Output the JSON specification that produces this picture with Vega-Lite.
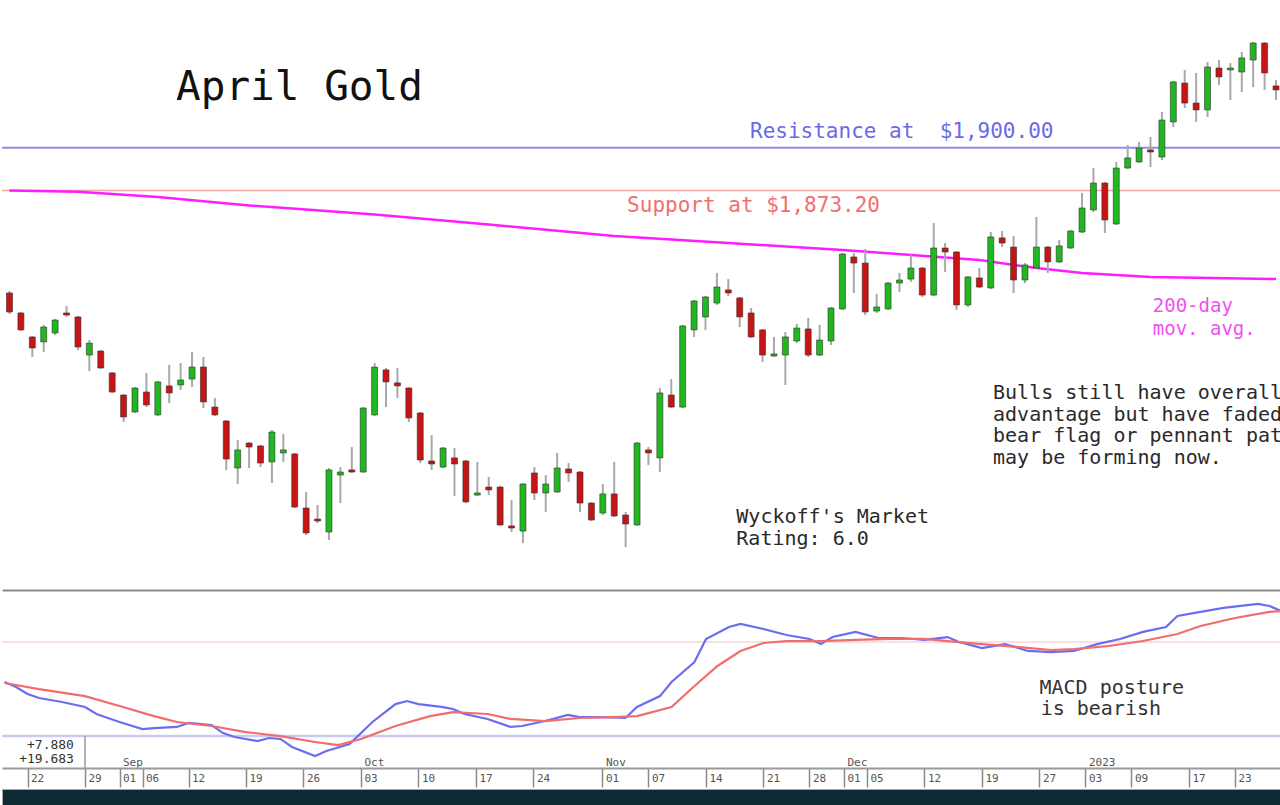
{
  "$schema": "https://vega.github.io/schema/vega-lite/v6.json",
  "padding": 0,
  "background": "#ffffff",
  "spacing": 0,
  "config": {
    "view": {"stroke": null},
    "font": "DejaVu Sans Mono",
    "text": {"font": "DejaVu Sans Mono"}
  },
  "datasets": {
    "candles": [
      {"i":0,"o":1809.2,"h":1810.4,"l":1796.1,"c":1797.3},
      {"i":1,"o":1796.7,"h":1797.3,"l":1785.4,"c":1786.1},
      {"i":2,"o":1781.7,"h":1782.3,"l":1769.2,"c":1774.8},
      {"i":3,"o":1778.6,"h":1789.2,"l":1772.3,"c":1787.9},
      {"i":4,"o":1784.2,"h":1792.9,"l":1782.9,"c":1792.3},
      {"i":5,"o":1796.7,"h":1801.0,"l":1794.2,"c":1795.4},
      {"i":6,"o":1794.2,"h":1794.8,"l":1773.5,"c":1775.4},
      {"i":7,"o":1770.4,"h":1779.8,"l":1760.4,"c":1777.9},
      {"i":8,"o":1772.9,"h":1773.5,"l":1761.7,"c":1762.3},
      {"i":9,"o":1759.2,"h":1759.8,"l":1746.7,"c":1747.3},
      {"i":10,"o":1745.4,"h":1746.1,"l":1728.6,"c":1731.7},
      {"i":11,"o":1734.8,"h":1750.4,"l":1734.2,"c":1749.8},
      {"i":12,"o":1747.3,"h":1759.2,"l":1737.9,"c":1739.2},
      {"i":13,"o":1733.0,"h":1754.2,"l":1732.3,"c":1753.6},
      {"i":14,"o":1751.1,"h":1764.2,"l":1740.4,"c":1746.7},
      {"i":15,"o":1751.7,"h":1765.4,"l":1748.6,"c":1754.8},
      {"i":16,"o":1755.4,"h":1772.3,"l":1750.4,"c":1762.9},
      {"i":17,"o":1762.9,"h":1769.2,"l":1737.3,"c":1741.1},
      {"i":18,"o":1737.9,"h":1743.6,"l":1732.3,"c":1733.0},
      {"i":19,"o":1729.2,"h":1729.8,"l":1698.6,"c":1705.4},
      {"i":20,"o":1699.8,"h":1717.3,"l":1689.8,"c":1711.1},
      {"i":21,"o":1715.4,"h":1716.1,"l":1699.8,"c":1712.9},
      {"i":22,"o":1713.6,"h":1714.2,"l":1700.4,"c":1702.9},
      {"i":23,"o":1703.6,"h":1723.6,"l":1690.4,"c":1722.3},
      {"i":24,"o":1709.2,"h":1721.1,"l":1703.6,"c":1711.1},
      {"i":25,"o":1708.6,"h":1709.2,"l":1674.8,"c":1675.4},
      {"i":26,"o":1674.8,"h":1684.8,"l":1657.9,"c":1659.2},
      {"i":27,"o":1667.9,"h":1676.7,"l":1665.4,"c":1666.7},
      {"i":28,"o":1659.8,"h":1699.8,"l":1654.8,"c":1698.6},
      {"i":29,"o":1695.4,"h":1700.4,"l":1677.9,"c":1697.3},
      {"i":30,"o":1698.6,"h":1712.9,"l":1696.7,"c":1697.3},
      {"i":31,"o":1697.3,"h":1737.9,"l":1696.7,"c":1737.3},
      {"i":32,"o":1733.0,"h":1765.4,"l":1732.3,"c":1762.9},
      {"i":33,"o":1761.1,"h":1762.3,"l":1737.9,"c":1753.6},
      {"i":34,"o":1753.0,"h":1762.3,"l":1743.6,"c":1751.1},
      {"i":35,"o":1749.8,"h":1750.4,"l":1728.6,"c":1731.1},
      {"i":36,"o":1734.2,"h":1734.8,"l":1702.9,"c":1704.8},
      {"i":37,"o":1704.2,"h":1720.4,"l":1698.6,"c":1702.3},
      {"i":38,"o":1700.4,"h":1712.9,"l":1699.8,"c":1712.3},
      {"i":39,"o":1706.1,"h":1712.3,"l":1682.3,"c":1702.3},
      {"i":40,"o":1704.2,"h":1704.8,"l":1677.9,"c":1678.6},
      {"i":41,"o":1682.9,"h":1703.6,"l":1682.3,"c":1684.2},
      {"i":42,"o":1687.9,"h":1694.2,"l":1682.9,"c":1686.1},
      {"i":43,"o":1687.9,"h":1688.6,"l":1663.6,"c":1664.2},
      {"i":44,"o":1663.6,"h":1679.8,"l":1659.8,"c":1662.3},
      {"i":45,"o":1660.4,"h":1690.4,"l":1652.9,"c":1689.8},
      {"i":46,"o":1696.7,"h":1700.4,"l":1679.8,"c":1684.2},
      {"i":47,"o":1684.2,"h":1695.4,"l":1672.3,"c":1689.8},
      {"i":48,"o":1684.8,"h":1709.2,"l":1684.2,"c":1699.8},
      {"i":49,"o":1699.2,"h":1702.9,"l":1691.1,"c":1696.7},
      {"i":50,"o":1697.3,"h":1697.9,"l":1672.3,"c":1677.9},
      {"i":51,"o":1677.9,"h":1678.6,"l":1666.7,"c":1667.3},
      {"i":52,"o":1671.7,"h":1689.8,"l":1670.4,"c":1683.6},
      {"i":53,"o":1683.6,"h":1703.6,"l":1669.2,"c":1669.8},
      {"i":54,"o":1670.4,"h":1672.3,"l":1650.4,"c":1664.8},
      {"i":55,"o":1664.2,"h":1716.1,"l":1663.6,"c":1715.4},
      {"i":56,"o":1711.1,"h":1712.9,"l":1701.7,"c":1709.2},
      {"i":57,"o":1706.1,"h":1749.8,"l":1697.3,"c":1746.7},
      {"i":58,"o":1745.4,"h":1755.4,"l":1737.3,"c":1737.9},
      {"i":59,"o":1737.9,"h":1789.2,"l":1737.3,"c":1788.6},
      {"i":60,"o":1786.1,"h":1804.8,"l":1781.7,"c":1804.2},
      {"i":61,"o":1794.2,"h":1807.3,"l":1786.1,"c":1806.7},
      {"i":62,"o":1802.9,"h":1821.7,"l":1801.7,"c":1812.9},
      {"i":63,"o":1811.1,"h":1817.9,"l":1807.3,"c":1809.2},
      {"i":64,"o":1806.1,"h":1806.7,"l":1787.9,"c":1794.2},
      {"i":65,"o":1796.7,"h":1799.8,"l":1781.1,"c":1781.7},
      {"i":66,"o":1786.1,"h":1786.7,"l":1766.1,"c":1770.4},
      {"i":67,"o":1769.8,"h":1781.7,"l":1769.2,"c":1771.1},
      {"i":68,"o":1770.4,"h":1784.8,"l":1751.7,"c":1781.7},
      {"i":69,"o":1779.2,"h":1789.8,"l":1777.9,"c":1787.3},
      {"i":70,"o":1786.7,"h":1793.6,"l":1769.2,"c":1770.4},
      {"i":71,"o":1770.4,"h":1789.2,"l":1769.8,"c":1779.8},
      {"i":72,"o":1779.2,"h":1800.4,"l":1776.7,"c":1799.8},
      {"i":73,"o":1799.2,"h":1834.2,"l":1798.6,"c":1833.5},
      {"i":74,"o":1831.7,"h":1834.2,"l":1809.2,"c":1827.9},
      {"i":75,"o":1827.9,"h":1836.7,"l":1795.4,"c":1797.3},
      {"i":76,"o":1797.9,"h":1808.6,"l":1796.7,"c":1800.4},
      {"i":77,"o":1799.2,"h":1816.1,"l":1798.6,"c":1815.4},
      {"i":78,"o":1815.4,"h":1821.7,"l":1809.8,"c":1817.3},
      {"i":79,"o":1817.9,"h":1832.9,"l":1816.1,"c":1824.8},
      {"i":80,"o":1824.8,"h":1825.4,"l":1806.7,"c":1807.9},
      {"i":81,"o":1807.9,"h":1852.9,"l":1807.3,"c":1837.3},
      {"i":82,"o":1837.3,"h":1840.4,"l":1822.3,"c":1834.8},
      {"i":83,"o":1834.8,"h":1835.4,"l":1798.6,"c":1801.7},
      {"i":84,"o":1801.7,"h":1819.8,"l":1800.4,"c":1819.2},
      {"i":85,"o":1818.6,"h":1824.8,"l":1812.3,"c":1812.9},
      {"i":86,"o":1812.3,"h":1847.3,"l":1811.7,"c":1844.2},
      {"i":87,"o":1843.6,"h":1847.9,"l":1837.9,"c":1840.4},
      {"i":88,"o":1837.9,"h":1844.8,"l":1809.2,"c":1817.3},
      {"i":89,"o":1817.3,"h":1827.9,"l":1815.4,"c":1826.7},
      {"i":90,"o":1824.8,"h":1856.7,"l":1824.2,"c":1837.9},
      {"i":91,"o":1837.9,"h":1838.6,"l":1821.7,"c":1828.6},
      {"i":92,"o":1828.6,"h":1842.3,"l":1827.9,"c":1838.6},
      {"i":93,"o":1837.3,"h":1848.6,"l":1836.7,"c":1847.9},
      {"i":94,"o":1847.3,"h":1871.7,"l":1846.7,"c":1862.3},
      {"i":95,"o":1861.1,"h":1887.3,"l":1859.8,"c":1877.9},
      {"i":96,"o":1877.9,"h":1878.6,"l":1846.7,"c":1854.8},
      {"i":97,"o":1852.3,"h":1891.1,"l":1851.7,"c":1887.3},
      {"i":98,"o":1887.3,"h":1901.7,"l":1886.7,"c":1893.6},
      {"i":99,"o":1891.1,"h":1903.6,"l":1890.4,"c":1899.8},
      {"i":100,"o":1898.6,"h":1906.7,"l":1887.9,"c":1897.3},
      {"i":101,"o":1894.2,"h":1922.3,"l":1892.3,"c":1917.3},
      {"i":102,"o":1916.1,"h":1941.7,"l":1912.9,"c":1941.1},
      {"i":103,"o":1940.4,"h":1948.6,"l":1924.8,"c":1927.9},
      {"i":104,"o":1927.9,"h":1946.7,"l":1916.1,"c":1923.6},
      {"i":105,"o":1923.6,"h":1953.6,"l":1919.2,"c":1950.4},
      {"i":106,"o":1949.8,"h":1954.8,"l":1939.2,"c":1944.2},
      {"i":107,"o":1948.6,"h":1952.9,"l":1929.8,"c":1949.8},
      {"i":108,"o":1947.3,"h":1959.8,"l":1934.8,"c":1956.1},
      {"i":109,"o":1954.8,"h":1966.1,"l":1937.9,"c":1965.4},
      {"i":110,"o":1965.4,"h":1966.1,"l":1936.1,"c":1946.7},
      {"i":111,"o":1938.6,"h":1942.3,"l":1929.8,"c":1936.1}
    ],
    "ma": [
      {"i":0,"p":1873.2},{"i":6,"p":1872.4},{"i":13,"p":1869.2},{"i":21,"p":1863.9},
      {"i":32,"p":1858.2},{"i":42,"p":1852.0},{"i":53,"p":1844.8},{"i":63,"p":1840.4},
      {"i":73,"p":1836.1},{"i":82,"p":1831.4},{"i":85,"p":1829.8},{"i":90,"p":1824.8},
      {"i":94,"p":1821.7},{"i":100,"p":1819.2},{"i":111,"p":1817.9}
    ],
    "macd": [
      {"i":0,"v":-25.0},{"i":1,"v":-28.1},{"i":2,"v":-32.5},{"i":3,"v":-35.0},{"i":5,"v":-37.5},
      {"i":7,"v":-40.6},{"i":8,"v":-45.0},{"i":10,"v":-50.0},{"i":12,"v":-54.4},{"i":13,"v":-53.8},
      {"i":15,"v":-53.1},{"i":16,"v":-50.6},{"i":18,"v":-51.9},{"i":19,"v":-56.9},{"i":20,"v":-59.4},
      {"i":22,"v":-61.9},{"i":23,"v":-60.0},{"i":24,"v":-60.6},{"i":25,"v":-65.6},{"i":27,"v":-71.3},
      {"i":28,"v":-68.1},{"i":30,"v":-63.8},{"i":32,"v":-50.0},{"i":34,"v":-38.8},{"i":35,"v":-36.9},
      {"i":36,"v":-38.8},{"i":38,"v":-40.6},{"i":39,"v":-41.9},{"i":40,"v":-45.0},{"i":42,"v":-48.1},
      {"i":44,"v":-53.1},{"i":45,"v":-52.5},{"i":47,"v":-49.4},{"i":49,"v":-45.6},{"i":50,"v":-46.9},
      {"i":52,"v":-46.9},{"i":54,"v":-47.5},{"i":55,"v":-40.6},{"i":57,"v":-33.8},{"i":58,"v":-25.0},
      {"i":60,"v":-12.5},{"i":61,"v":1.9},{"i":63,"v":9.4},{"i":64,"v":11.3},{"i":66,"v":8.1},
      {"i":68,"v":4.4},{"i":70,"v":1.9},{"i":71,"v":-1.3},{"i":72,"v":3.1},{"i":74,"v":6.3},
      {"i":76,"v":2.5},{"i":78,"v":2.5},{"i":80,"v":1.3},{"i":82,"v":3.1},{"i":83,"v":0},
      {"i":85,"v":-3.8},{"i":87,"v":-1.3},{"i":89,"v":-5.6},{"i":91,"v":-6.3},{"i":93,"v":-5.6},
      {"i":95,"v":-1.3},{"i":97,"v":1.9},{"i":99,"v":6.3},{"i":101,"v":9.4},{"i":102,"v":16.3},
      {"i":104,"v":18.8},{"i":106,"v":21.3},{"i":109,"v":23.8},{"i":110,"v":22.5},{"i":111,"v":19.4}
    ],
    "signal": [
      {"i":0,"v":-25.6},{"i":3,"v":-29.4},{"i":7,"v":-33.8},{"i":10,"v":-40.0},{"i":13,"v":-46.3},
      {"i":15,"v":-50.0},{"i":18,"v":-52.5},{"i":21,"v":-56.3},{"i":24,"v":-58.8},{"i":27,"v":-62.5},
      {"i":29,"v":-64.4},{"i":31,"v":-60.6},{"i":34,"v":-52.5},{"i":37,"v":-46.3},{"i":39,"v":-43.8},
      {"i":42,"v":-45.0},{"i":44,"v":-48.1},{"i":47,"v":-49.4},{"i":50,"v":-47.5},{"i":53,"v":-46.9},
      {"i":55,"v":-46.3},{"i":58,"v":-40.6},{"i":60,"v":-27.5},{"i":62,"v":-15.0},{"i":64,"v":-5.6},
      {"i":66,"v":-0.6},{"i":68,"v":0.6},{"i":71,"v":0.6},{"i":74,"v":1.3},{"i":77,"v":1.9},
      {"i":80,"v":1.9},{"i":82,"v":0.6},{"i":85,"v":-1.3},{"i":88,"v":-3.1},{"i":91,"v":-5.0},
      {"i":93,"v":-4.4},{"i":96,"v":-2.5},{"i":99,"v":0.6},{"i":102,"v":5.0},{"i":104,"v":10.0},
      {"i":107,"v":15.0},{"i":110,"v":18.8},{"i":111,"v":19.4}
    ]
  },
  "vconcat": [
    {
      "width": 1280,
      "height": 590,
      "layer": [
        {
          "data": {"values": [{"p": 1900}]},
          "mark": {"type": "rule", "color": "#8c8cf0", "strokeWidth": 2},
          "encoding": {"y": {"field": "p", "type": "quantitative", "scale": {"domain": [1623.55, 1992.3], "nice": false, "zero": false}, "axis": null}}
        },
        {
          "data": {"values": [{"p": 1873.2}]},
          "mark": {"type": "rule", "color": "#f4a8a2", "strokeWidth": 1.6},
          "encoding": {"y": {"field": "p", "type": "quantitative", "scale": {"domain": [1623.55, 1992.3], "nice": false, "zero": false}, "axis": null}}
        },
        {
          "data": {"name": "ma"},
          "mark": {"type": "line", "color": "#ff1cff", "strokeWidth": 2.5, "clip": true},
          "encoding": {
            "x": {"field": "i", "type": "quantitative", "scale": {"domain": [-0.2174, 111.087], "nice": false, "zero": false},
                  "axis": {"orient": "bottom", "domain": true, "domainColor": "#8a8a8a", "domainWidth": 2, "ticks": false, "labels": false, "grid": false, "title": null}},
            "y": {"field": "p", "type": "quantitative", "scale": {"domain": [1623.55, 1992.3], "nice": false, "zero": false}, "axis": null}
          }
        },
        {
          "data": {"name": "candles"},
          "mark": {"type": "rule", "color": "#a8a8a8", "strokeWidth": 2, "clip": true},
          "encoding": {
            "x": {"field": "i", "type": "quantitative", "scale": {"domain": [-0.2174, 111.087], "nice": false, "zero": false}},
            "y": {"field": "l", "type": "quantitative", "scale": {"domain": [1623.55, 1992.3], "nice": false, "zero": false}, "axis": null},
            "y2": {"field": "h"}
          }
        },
        {
          "data": {"name": "candles"},
          "mark": {"type": "bar", "width": 6, "clip": true, "stroke": "#333333", "strokeWidth": 0.6},
          "encoding": {
            "x": {"field": "i", "type": "quantitative", "scale": {"domain": [-0.2174, 111.087], "nice": false, "zero": false}},
            "y": {"field": "o", "type": "quantitative", "scale": {"domain": [1623.55, 1992.3], "nice": false, "zero": false}, "axis": null},
            "y2": {"field": "c"},
            "color": {"condition": {"test": "datum.c >= datum.o", "value": "#1fb81f"}, "value": "#c81414"}
          }
        },
        {
          "data": {"values": [{"i": 14.6, "p": 1929.8, "t": "April Gold"}]},
          "mark": {"type": "text", "align": "left", "baseline": "alphabetic", "fontSize": 41, "color": "#111111", "font": "DejaVu Sans Mono"},
          "encoding": {
            "x": {"field": "i", "type": "quantitative", "scale": {"domain": [-0.2174, 111.087], "nice": false, "zero": false}},
            "y": {"field": "p", "type": "quantitative", "scale": {"domain": [1623.55, 1992.3], "nice": false, "zero": false}, "axis": null},
            "text": {"field": "t"}
          }
        },
        {
          "data": {"values": [{"i": 64.9, "p": 1906.05, "t": "Resistance at \u00a0$1,900.00"}]},
          "mark": {"type": "text", "align": "left", "baseline": "alphabetic", "fontSize": 21, "color": "#6a6ae8", "font": "DejaVu Sans Mono"},
          "encoding": {
            "x": {"field": "i", "type": "quantitative", "scale": {"domain": [-0.2174, 111.087], "nice": false, "zero": false}},
            "y": {"field": "p", "type": "quantitative", "scale": {"domain": [1623.55, 1992.3], "nice": false, "zero": false}, "axis": null},
            "text": {"field": "t"}
          }
        },
        {
          "data": {"values": [{"i": 54.13, "p": 1859.8, "t": "Support at $1,873.20"}]},
          "mark": {"type": "text", "align": "left", "baseline": "alphabetic", "fontSize": 21, "color": "#f07070", "font": "DejaVu Sans Mono"},
          "encoding": {
            "x": {"field": "i", "type": "quantitative", "scale": {"domain": [-0.2174, 111.087], "nice": false, "zero": false}},
            "y": {"field": "p", "type": "quantitative", "scale": {"domain": [1623.55, 1992.3], "nice": false, "zero": false}, "axis": null},
            "text": {"field": "t"}
          }
        },
        {
          "data": {"values": [{"i": 100.2, "p": 1797.0, "t": "200-day"}, {"i": 100.2, "p": 1783.2, "t": "mov. avg."}]},
          "mark": {"type": "text", "align": "left", "baseline": "alphabetic", "fontSize": 19, "color": "#f050f0", "font": "DejaVu Sans Mono"},
          "encoding": {
            "x": {"field": "i", "type": "quantitative", "scale": {"domain": [-0.2174, 111.087], "nice": false, "zero": false}},
            "y": {"field": "p", "type": "quantitative", "scale": {"domain": [1623.55, 1992.3], "nice": false, "zero": false}, "axis": null},
            "text": {"field": "t"}
          }
        },
        {
          "data": {"values": [
            {"i": 63.7, "p": 1665.4, "t": "Wyckoff's Market"},
            {"i": 63.7, "p": 1651.7, "t": "Rating: 6.0"},
            {"i": 86.2, "p": 1742.9, "t": "Bulls still have overall"},
            {"i": 86.2, "p": 1729.4, "t": "advantage but have faded;"},
            {"i": 86.2, "p": 1715.9, "t": "bear flag or pennant pattern"},
            {"i": 86.2, "p": 1702.4, "t": "may be forming now."}
          ]},
          "mark": {"type": "text", "align": "left", "baseline": "alphabetic", "fontSize": 20, "color": "#2a2a2a", "font": "DejaVu Sans Mono", "clip": true},
          "encoding": {
            "x": {"field": "i", "type": "quantitative", "scale": {"domain": [-0.2174, 111.087], "nice": false, "zero": false}},
            "y": {"field": "p", "type": "quantitative", "scale": {"domain": [1623.55, 1992.3], "nice": false, "zero": false}, "axis": null},
            "text": {"field": "t"}
          }
        }
      ]
    },
    {
      "width": 1280,
      "height": 178,
      "layer": [
        {
          "data": {"values": [{"v": 0}]},
          "mark": {"type": "rule", "color": "#f5c2c2", "strokeWidth": 1.2},
          "encoding": {"y": {"field": "v", "type": "quantitative", "scale": {"domain": [-78.75, 32.5], "nice": false, "zero": false}, "axis": null}}
        },
        {
          "data": {"values": [{"v": -58.75}]},
          "mark": {"type": "rule", "color": "#cacaf4", "strokeWidth": 2.5},
          "encoding": {"y": {"field": "v", "type": "quantitative", "scale": {"domain": [-78.75, 32.5], "nice": false, "zero": false}, "axis": null}}
        },
        {
          "data": {"name": "macd"},
          "mark": {"type": "line", "color": "#6c6cf2", "strokeWidth": 2.2, "clip": true},
          "encoding": {
            "x": {"field": "i", "type": "quantitative", "scale": {"domain": [-0.2174, 111.087], "nice": false, "zero": false},
                  "axis": {
                    "orient": "bottom",
                    "values": [2,7,10,12,16,21,26,31,36,41,46,52,56,61,66,70,73,75,80,85,90,94,98,103,107],
                    "labelExpr": "[indexof([10,31,52,73,94], datum.value) >= 0 ? ['Sep','Oct','Nov','Dec','2023'][indexof([10,31,52,73,94], datum.value)] : '', ['22','29','01','06','12','19','26','03','10','17','24','01','07','14','21','28','01','05','12','19','27','03','09','17','23'][indexof([2,7,10,12,16,21,26,31,36,41,46,52,56,61,66,70,73,75,80,85,90,94,98,103,107], datum.value)]]",
                    "domain": true, "domainColor": "#9a9a9a", "domainWidth": 2,
                    "ticks": true, "tickColor": "#8a8a8a", "tickWidth": 1.5, "tickSize": 19,
                    "labelPadding": -25, "labelAlign": "left", "labelBaseline": "middle", "labelOffset": 3,
                    "labelLineHeight": 16, "labelFont": "DejaVu Sans Mono", "labelFontSize": 11, "labelColor": "#555555",
                    "labelFlush": false, "labelOverlap": false, "labelBound": false, "grid": false, "title": null
                  }},
            "y": {"field": "v", "type": "quantitative", "scale": {"domain": [-78.75, 32.5], "nice": false, "zero": false}, "axis": null}
          }
        },
        {
          "data": {"name": "signal"},
          "mark": {"type": "line", "color": "#f26c6c", "strokeWidth": 2.2, "clip": true},
          "encoding": {
            "x": {"field": "i", "type": "quantitative", "scale": {"domain": [-0.2174, 111.087], "nice": false, "zero": false}},
            "y": {"field": "v", "type": "quantitative", "scale": {"domain": [-78.75, 32.5], "nice": false, "zero": false}, "axis": null}
          }
        },
        {
          "data": {"values": [{"i": 7, "v": -58.75, "v2": -78.75}]},
          "mark": {"type": "rule", "color": "#9a9a9a", "strokeWidth": 1.5},
          "encoding": {
            "x": {"field": "i", "type": "quantitative", "scale": {"domain": [-0.2174, 111.087], "nice": false, "zero": false}},
            "y": {"field": "v", "type": "quantitative", "scale": {"domain": [-78.75, 32.5], "nice": false, "zero": false}, "axis": null},
            "y2": {"field": "v2"}
          }
        },
        {
          "data": {"values": [{"i": 6.04, "v": -66.9, "t": "+7.880"}, {"i": 6.04, "v": -75.9, "t": "+19.683"}]},
          "mark": {"type": "text", "align": "right", "baseline": "alphabetic", "fontSize": 13, "color": "#333333", "font": "DejaVu Sans Mono"},
          "encoding": {
            "x": {"field": "i", "type": "quantitative", "scale": {"domain": [-0.2174, 111.087], "nice": false, "zero": false}},
            "y": {"field": "v", "type": "quantitative", "scale": {"domain": [-78.75, 32.5], "nice": false, "zero": false}, "axis": null},
            "text": {"field": "t"}
          }
        },
        {
          "data": {"values": [{"i": 90, "v": -32.2, "t": "MACD posture"}, {"i": 90.1, "v": -45.6, "t": "is bearish"}]},
          "mark": {"type": "text", "align": "left", "baseline": "alphabetic", "fontSize": 20, "color": "#333333", "font": "DejaVu Sans Mono"},
          "encoding": {
            "x": {"field": "i", "type": "quantitative", "scale": {"domain": [-0.2174, 111.087], "nice": false, "zero": false}},
            "y": {"field": "v", "type": "quantitative", "scale": {"domain": [-78.75, 32.5], "nice": false, "zero": false}, "axis": null},
            "text": {"field": "t"}
          }
        }
      ]
    },
    {
      "width": 1280,
      "height": 16,
      "view": {"fill": "#0c2a33", "stroke": "#a8a8a8"},
      "data": {"values": [{"t": ""}]},
      "mark": {"type": "text"},
      "encoding": {"text": {"field": "t"}}
    }
  ]
}
